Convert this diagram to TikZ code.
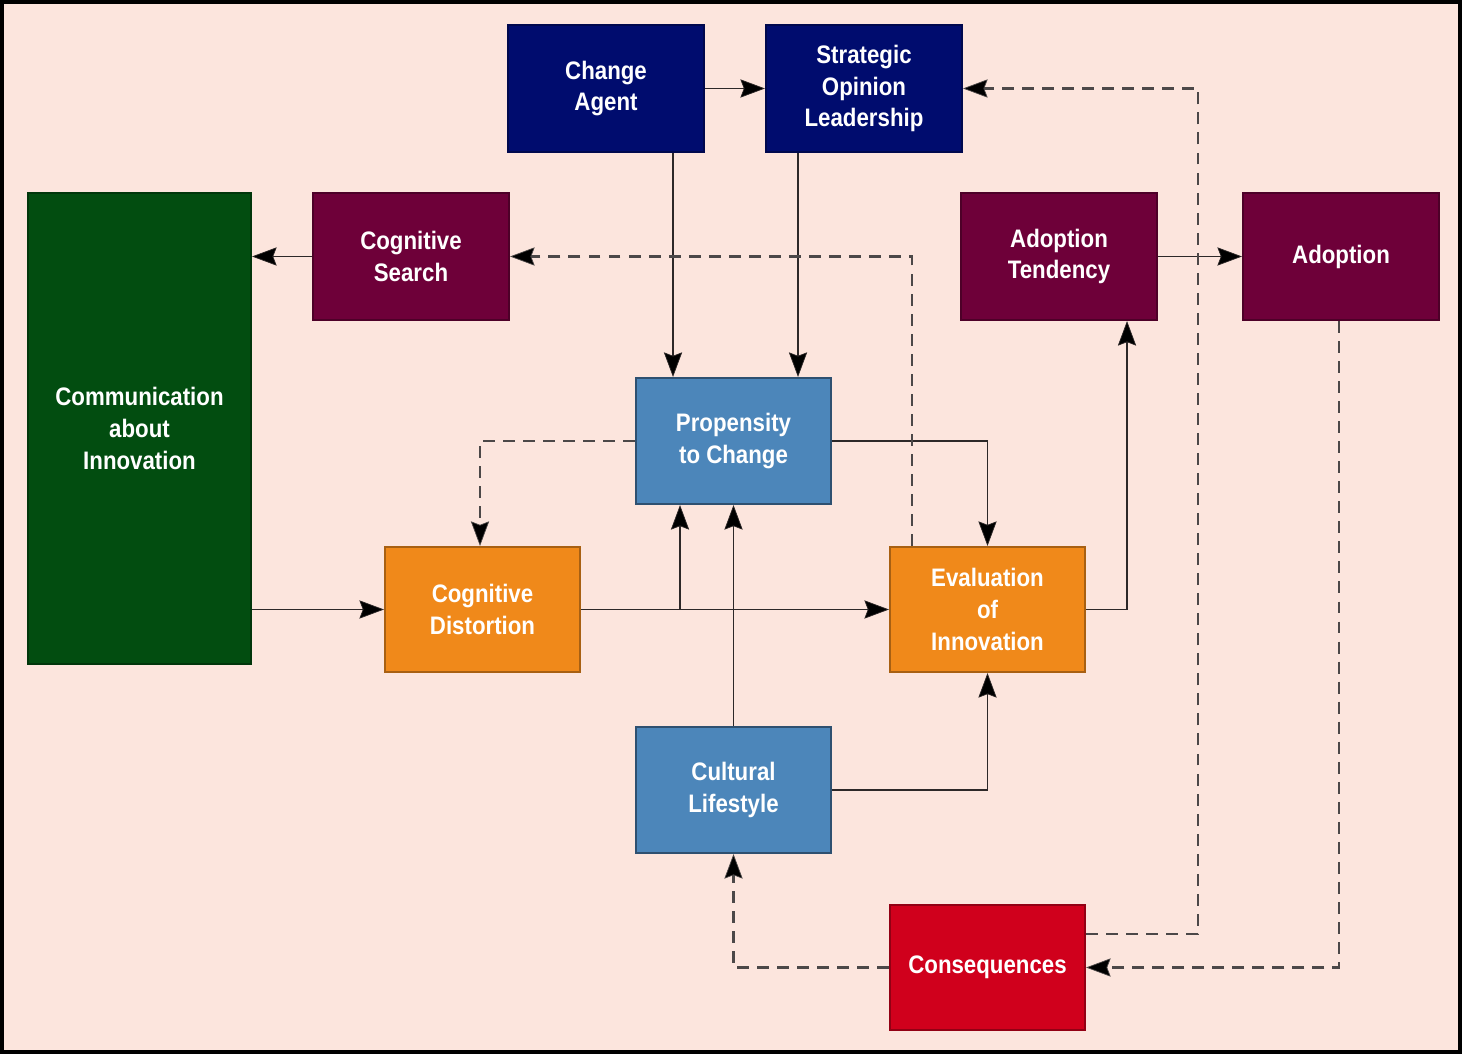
\documentclass[tikz,border=0pt]{standalone}
\usepackage{fontspec}
\setmainfont{Liberation Sans}[FakeStretch=0.88]
\usetikzlibrary{arrows.meta,calc}
\definecolor{bgpink}{RGB}{252,229,221}
\definecolor{navy}{RGB}{0,12,110}
\definecolor{plum}{RGB}{110,0,57}
\definecolor{forest}{RGB}{2,77,16}
\definecolor{steel}{RGB}{76,134,186}
\definecolor{amber}{RGB}{240,137,26}
\definecolor{crimson}{RGB}{208,0,28}
\definecolor{wire}{RGB}{45,40,40}
\tikzstyle{box}=[rectangle, inner sep=0pt, minimum width=1.96cm, minimum height=1.27cm, text=white, align=center, font=\fontsize{7.2}{9}\selectfont\bfseries, line width=0.6pt]
\tikzstyle{navybox}=[box, fill=navy, draw=navy!70!black]
\tikzstyle{plumbox}=[box, fill=plum, draw=plum!70!black]
\tikzstyle{steelbox}=[box, fill=steel, draw=steel!60!black]
\tikzstyle{amberbox}=[box, fill=amber, draw=amber!70!black]
\tikzstyle{redbox}=[box, fill=crimson, draw=crimson!70!black]
\tikzstyle{arrow}=[draw=wire, line width=0.5pt, -{Stealth[length=7pt,width=5.2pt,inset=1pt,fill=black,line width=0.2pt]}]
\tikzstyle{dasharrow}=[arrow, draw=wire!85, line width=0.65pt, dash pattern=on 3.4pt off 2.3pt]

\begin{document}
\begin{tikzpicture}
  \fill[bgpink] (0,0) rectangle (14.62,10.54);
  \draw[black, line width=0.9pt] (0.02,0.02) rectangle (14.60,10.52);
  \useasboundingbox (0,0) rectangle (14.62,10.54);

  \node[navybox] (agent) at (6.06,9.655) {Change\\Agent};
  \node[navybox] (strat) at (8.64,9.655) {Strategic\\Opinion\\Leadership};
  \node[plumbox] (search) at (4.11,7.975) {Cognitive\\Search};
  \node[plumbox] (tend) at (10.59,7.975) {Adoption\\Tendency};
  \node[plumbox] (adopt) at (13.41,7.975) {Adoption};
  \node[box, fill=forest, draw=forest!70!black, minimum width=2.23cm, minimum height=4.71cm] (comm) at (1.395,6.255) {Communication\\about\\Innovation};
  \node[steelbox, minimum width=1.95cm, minimum height=1.26cm] (prop) at (7.335,6.13) {Propensity\\to Change};
  \node[amberbox, minimum width=1.95cm, minimum height=1.25cm] (dist) at (4.825,4.445) {Cognitive\\Distortion};
  \node[amberbox, minimum width=1.95cm, minimum height=1.25cm] (eval) at (9.875,4.445) {Evaluation\\of\\Innovation};
  \node[steelbox, minimum width=1.95cm, minimum height=1.26cm] (cult) at (7.335,2.64) {Cultural\\Lifestyle};
  \node[redbox, minimum width=1.95cm, minimum height=1.25cm] (cons) at (9.875,0.865) {Consequences};

  % solid links
  \draw[arrow] (agent.east) -- (strat.west);
  \draw[arrow] ([xshift=0.67cm]agent.south) -- ([xshift=0.67cm]agent.south |- prop.north);
  \draw[arrow] ([xshift=-0.66cm]strat.south) -- ([xshift=-0.66cm]strat.south |- prop.north);
  \draw[arrow] (search.west) -- (search.west -| comm.east);
  \draw[arrow] (tend.east) -- (adopt.west);
  \draw[arrow] (eval.east) -| ([xshift=0.68cm]tend.south);
  \draw[arrow] (comm.east |- dist.west) -- (dist.west);
  \draw[arrow] (dist.east) -- (eval.west);
  \coordinate (split) at ([xshift=-0.535cm]prop.south |- dist.east);
  \draw[arrow] (split) -- ([xshift=-0.535cm]prop.south);
  \draw[arrow] (cult.north) -- (prop.south);
  \draw[arrow] (prop.east) -| (eval.north);
  \draw[arrow] (cult.east) -| (eval.south);

  % dashed feedback
  \draw[dasharrow] ([xshift=-0.755cm]eval.north) |- (search.east);
  \draw[dasharrow] (prop.west) -| ([xshift=-0.025cm]dist.north);
  \draw[dasharrow] (cons.west) -| (cult.south);
  \coordinate (loopR) at (11.98,9.68);
  \draw[dasharrow] ([yshift=0.335cm]cons.east) -| (loopR |- strat.east) -- (strat.east);
  \draw[dasharrow] ([xshift=-0.02cm]adopt.south) |- (cons.east);
\end{tikzpicture}
\end{document}
